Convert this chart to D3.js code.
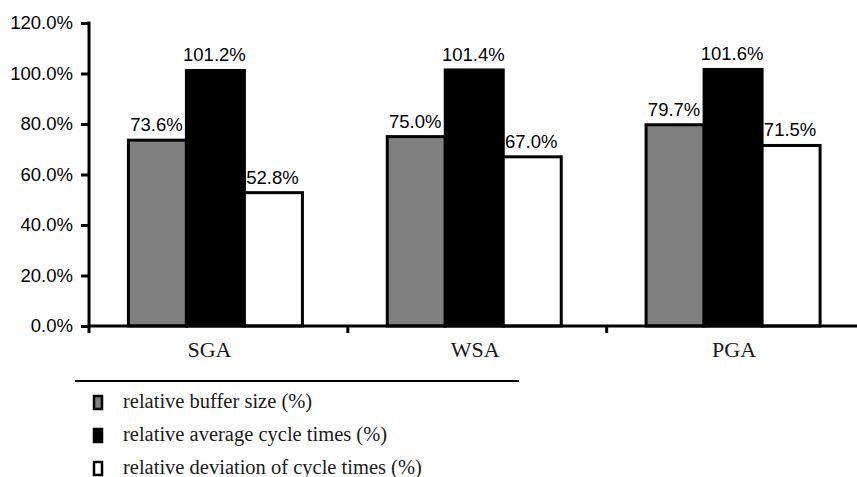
<!DOCTYPE html>
<html>
<head>
<meta charset="utf-8">
<script src="https://cdn.jsdelivr.net/npm/d3@7"></script>
<style>
  html, body { margin: 0; padding: 0; background: #fff; }
  svg { display: block; }
</style>
</head>
<body>
<svg id="chart" width="857" height="477"></svg>
<script>
// Algorithms compared
const categories = ["SGA", "WSA", "PGA"];

// Relative values (%) per algorithm
const bufferSize = [73.6, 75.0, 79.7];
const avgCycleTimes = [101.2, 101.4, 101.6];
const devCycleTimes = [52.8, 67.0, 71.5];

const seriesNames = [
  "relative buffer size (%)",
  "relative average cycle times (%)",
  "relative deviation of cycle times (%)"
];
const seriesFills = ["#808080", "#000000", "#ffffff"];
const yTicks = [0, 20, 40, 60, 80, 100, 120];

const series = [bufferSize, avgCycleTimes, devCycleTimes];

const svg = d3.select("#chart");
const sans = "'Liberation Sans', Arial, sans-serif";
const serif = "'Liberation Serif', 'Times New Roman', serif";

const y = d3.scaleLinear().domain([0, 120]).range([326, 23]);
const x = d3.scaleBand().domain(categories).range([89, 865.5]).padding(0);
const barW = 58;
const groupShift = -3;

// bars with value labels
const groups = svg.append("g").selectAll("g")
  .data(categories)
  .join("g");

groups.each(function (cat, ci) {
  const g = d3.select(this);
  const cx = x(cat) + x.bandwidth() / 2 + groupShift;
  series.forEach((vals, si) => {
    const bx = cx - 1.5 * barW + si * barW;
    g.append("rect")
      .attr("x", bx)
      .attr("y", y(vals[ci]))
      .attr("width", barW)
      .attr("height", y(0) - y(vals[ci]))
      .attr("fill", seriesFills[si])
      .attr("stroke", "#000")
      .attr("stroke-width", 3);
    g.append("text")
      .attr("x", bx + barW / 2 - 1)
      .attr("y", y(vals[ci]) - 9)
      .attr("text-anchor", "middle")
      .attr("font-family", sans)
      .attr("font-size", 18.5)
      .attr("fill", "#000")
      .text(vals[ci].toFixed(1) + "%");
  });
});

// y axis
const yAxis = d3.axisLeft(y)
  .tickValues(yTicks)
  .tickSize(8)
  .tickPadding(8)
  .tickFormat(d => d.toFixed(1) + "%");
const gy = svg.append("g").attr("transform", "translate(89,0)").call(yAxis);
gy.select(".domain").remove();
gy.selectAll(".tick line").attr("stroke", "#000").attr("stroke-width", 3);
gy.selectAll(".tick text")
  .attr("font-family", sans)
  .attr("font-size", 18.5)
  .attr("fill", "#000");
svg.append("line")
  .attr("x1", 89).attr("x2", 89)
  .attr("y1", y(120) - 1.5).attr("y2", 333)
  .attr("stroke", "#000").attr("stroke-width", 3);

// x axis
svg.append("line")
  .attr("x1", 89).attr("x2", 857)
  .attr("y1", y(0)).attr("y2", y(0))
  .attr("stroke", "#000").attr("stroke-width", 3);
svg.append("g").selectAll("line")
  .data(categories.slice(1))
  .join("line")
  .attr("x1", d => x(d)).attr("x2", d => x(d))
  .attr("y1", y(0)).attr("y2", 333)
  .attr("stroke", "#000").attr("stroke-width", 3);
svg.append("g").selectAll("text")
  .data(categories)
  .join("text")
  .attr("x", (d, i) => x(d) + x.bandwidth() / 2 - (i === 0 ? 9 : 2))
  .attr("y", 357)
  .attr("text-anchor", "middle")
  .attr("font-family", serif)
  .attr("font-size", 22)
  .attr("fill", "#1a1a1a")
  .text(d => d);

// legend
svg.append("line")
  .attr("x1", 75).attr("x2", 519)
  .attr("y1", 381).attr("y2", 381)
  .attr("stroke", "#000").attr("stroke-width", 2);

const legend = svg.append("g").selectAll("g")
  .data(seriesNames)
  .join("g")
  .attr("transform", (d, i) => `translate(0, ${403 + i * 33})`);
legend.append("rect")
  .attr("x", 94).attr("y", -7)
  .attr("width", 8).attr("height", 13)
  .attr("fill", (d, i) => seriesFills[i])
  .attr("stroke", "#000")
  .attr("stroke-width", 2.5);
legend.append("text")
  .attr("x", 123)
  .attr("y", 5)
  .attr("font-family", serif)
  .attr("font-size", 20.5)
  .attr("fill", "#1a1a1a")
  .text(d => d);
</script>
</body>
</html>
